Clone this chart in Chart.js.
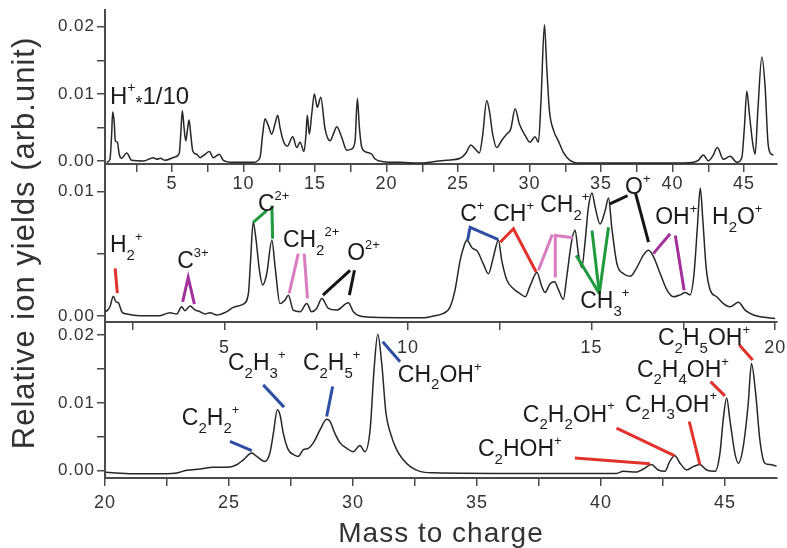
<!DOCTYPE html>
<html><head><meta charset="utf-8">
<script src="https://cdn.jsdelivr.net/npm/chart.js@4.4.0/dist/chart.umd.min.js"></script>
<style>
html,body{margin:0;padding:0;background:#fff;}
#wrap{position:relative;width:787px;height:548px;overflow:hidden;background:#fff;}
#wrap canvas{position:absolute;left:0;top:0;}
</style></head><body>
<div id="wrap">
<canvas id="cTop" width="787" height="548"></canvas>
<canvas id="cMid" width="787" height="548"></canvas>
<canvas id="cBot" width="787" height="548"></canvas>
</div>
<script>
// ---------- DATA ----------
// Top panel: full spectrum (H+ scaled by 1/10)
const topMass = [0.43,0.66,0.78,0.85,0.95,1.04,1.18,1.31,1.48,1.83,2.18,3.0,3.69,3.93,4.2,4.5,5.21,5.51,5.61,5.72,5.84,5.96,6.07,6.19,6.31,6.45,6.73,6.96,7.31,7.61,7.89,8.31,8.59,9.29,10.69,11.15,11.34,11.5,11.73,11.97,12.2,12.39,12.55,12.78,13.06,13.44,13.72,13.95,14.23,14.37,14.46,14.6,14.77,14.95,15.16,15.4,15.7,16.05,16.28,16.52,16.87,17.22,17.57,17.8,17.96,18.1,18.27,18.62,18.97,19.2,19.78,20.94,22.57,23.27,24.21,25.14,25.56,25.89,26.19,26.49,26.73,27.0,27.19,27.42,27.7,28.06,28.4,28.69,28.99,29.29,29.69,30.03,30.38,30.62,30.8,31.04,31.2,31.39,31.67,32.01,32.36,32.83,33.53,40.76,41.45,41.8,42.15,42.5,42.81,43.13,43.55,44.02,44.49,44.84,45.02,45.19,45.37,45.61,45.77,45.96,46.24,46.47,46.66,46.82,47.05];
const topYield = [-0.0002,0.00025,0.004,0.0073,0.006,0.003,0.0028,0.001,0.0004,0.0012,0.0001,0,0.0005,0.00025,0.0004,0.0001,0.0006,0.0012,0.004,0.0075,0.005,0.003,0.0045,0.0061,0.004,0.0015,0.001,0.0005,0.001,0.0014,0.0005,0.001,0.0001,-0.0002,-0.0002,0.0005,0.004,0.0063,0.0053,0.004,0.0055,0.0068,0.005,0.003,0.0022,0.0036,0.002,0.0028,0.0014,0.004,0.0068,0.004,0.007,0.01,0.008,0.0095,0.0048,0.003,0.004,0.0051,0.0035,0.0016,0.0018,0.003,0.0093,0.005,0.002,0.0013,0.001,0.0003,-0.0001,-0.0002,-0.0003,-0.0001,0.0001,0.0004,0.0012,0.0024,0.0018,0.0012,0.004,0.009,0.0075,0.004,0.002,0.0031,0.004,0.0048,0.0078,0.0055,0.0038,0.0028,0.0036,0.0028,0.009,0.0203,0.014,0.0075,0.0046,0.003,0.0013,0.0001,-0.0003,-0.0003,-0.0002,0.0001,0.0009,0,0.00075,0.002,0.00025,0.0007,-0.0002,0.0005,0.005,0.0104,0.007,0.0025,0.001,0.0075,0.0155,0.011,0.003,0.0012,0.0009];

// Middle panel: mass 2-20
const midMass = [1.77,1.88,1.97,2.04,2.11,2.2,2.34,2.7,3.24,3.51,3.7,3.83,3.92,4.06,4.2,4.33,4.47,4.6,4.79,5.06,5.24,5.51,5.65,5.71,5.78,5.86,5.95,6.04,6.15,6.29,6.38,6.51,6.65,6.74,6.87,7.06,7.24,7.37,7.51,7.65,7.83,8.06,8.37,8.51,8.69,9.05,9.78,10.42,10.69,10.96,11.14,11.28,11.42,11.53,11.6,11.74,11.89,12.05,12.19,12.32,12.46,12.55,12.69,12.87,13.05,13.19,13.32,13.51,13.64,13.73,13.87,13.99,14.1,14.23,14.32,14.46,14.55,14.64,14.73,14.82,14.91,15.01,15.1,15.23,15.37,15.46,15.55,15.69,15.87,16.05,16.23,16.41,16.55,16.68,16.87,17.05,17.23,17.41,17.55,17.68,17.79,17.88,17.96,18.03,18.12,18.23,18.41,18.59,18.77,19.0,19.18,19.41,19.59,20.0];
const midYield = [0.00035,0.00075,0.0016,0.00115,0.00107,0.00035,0.00016,0.00003,0.00003,0.00027,0.00016,0.00075,0.00043,0.0008,0.00048,0.00035,0.00016,0.00027,0.00008,0.00035,0.0007,0.00096,0.0018,0.0045,0.00754,0.0061,0.0037,0.0025,0.0034,0.0061,0.0039,0.001,0.0013,0.00168,0.00048,0.00035,0.001,0.00035,0.00061,0.00141,0.00061,0.00048,0.00107,0.00035,0,-0.0001,-0.00013,-0.00013,0,0.00021,0.0007,0.0021,0.0045,0.0057,0.0061,0.0055,0.0052,0.0042,0.0034,0.0047,0.0061,0.0045,0.0029,0.0022,0.0018,0.00155,0.0024,0.0035,0.0024,0.0019,0.0026,0.00275,0.0021,0.00133,0.0031,0.0061,0.0069,0.005,0.0039,0.0059,0.0087,0.0099,0.0087,0.0074,0.0085,0.0095,0.0071,0.0042,0.0034,0.0032,0.0039,0.0049,0.0053,0.0048,0.0034,0.0021,0.00155,0.0017,0.0019,0.0017,0.0034,0.0071,0.0103,0.0077,0.0039,0.0021,0.00155,0.001,0.00075,0.0011,0.00048,0.00008,-0.00005,-0.00019];

// Bottom panel: mass 20-47
const botMass = [20.04,21.14,22.49,22.89,23.29,23.83,24.37,24.91,25.31,25.58,25.92,26.12,26.45,26.65,26.79,26.95,27.06,27.19,27.39,27.59,27.79,28.0,28.2,28.4,28.67,28.94,29.07,29.27,29.48,29.75,30.01,30.28,30.48,30.69,30.85,31.0,31.16,31.33,31.49,31.76,32.03,32.3,32.7,33.24,36.87,40.63,40.9,41.44,41.71,42.04,42.31,42.58,42.78,42.98,43.19,43.46,43.72,43.99,44.26,44.6,44.8,44.93,45.07,45.2,45.4,45.54,45.74,45.94,46.07,46.24,46.41,46.61,46.81,47.08];
const botYield = [-0.00025,-0.00044,-0.00044,-0.00034,0.00005,0.00025,0.0005,0.0005,0.00088,0.0016,0.0026,0.0021,0.00137,0.0026,0.0055,0.009,0.0082,0.0055,0.0031,0.0024,0.0021,0.0031,0.0033,0.0041,0.006,0.0076,0.0073,0.0055,0.0041,0.0033,0.0028,0.0037,0.0028,0.006,0.0149,0.0201,0.0158,0.0085,0.0058,0.0031,0.0016,0.00063,-0.0001,-0.0003,-0.0004,-0.0004,-0.0001,-0.0002,0.00025,0.0009,0.0001,-0.0001,0.0014,0.0022,0.0011,0.0001,0.0006,0.0009,0.0001,-0.0001,0.0026,0.0075,0.0107,0.0075,0.0026,0.0011,0.0036,0.0099,0.0158,0.0114,0.0045,0.0011,0.0009,0.0007];

// Tick values and labels
const topXTicks = [2.5,5,7.5,10,12.5,15,17.5,20,22.5,25,27.5,30,32.5,35,37.5,40,42.5,45];
const topXLabels = ['','5','','10','','15','','20','','25','','30','','35','','40','','45'];
const midXTicks = [2.5,5,7.5,10,12.5,15,17.5,20];
const midXLabels = ['','5','','10','','15','','20'];
const botXTicks = [20,22.5,25,27.5,30,32.5,35,37.5,40,42.5,45];
const botXLabels = ['20','','25','','30','','35','','40','','45'];
const yTicks2 = [0,0.005,0.01,0.015,0.02];
const yLabels2 = ['0.00','','0.01','','0.02'];
const yTicks1 = [0,0.005,0.01];
const yLabels1 = ['0.00','','0.01'];

// Ion labels (text, mass, yield of baseline-left)
const topLabelText = ['H^+~*1/10'];
const topLabelMass = [0.66];
const topLabelYield = [0.00853];

const midLabelText = ['H_2^+','C^{3+}','C^{2+}','CH_2^{2+}','O^{2+}','C^+','CH^+','CH_2^+','CH_3^+','O^+','OH^+','H_2O^+'];
const midLabelMass = [1.88,3.71,5.91,6.59,8.34,11.42,12.32,13.60,14.69,15.91,16.73,18.28];
const midLabelYield = [0.00514,0.00384,0.00848,0.00554,0.00448,0.00768,0.00768,0.00834,0.00062,0.00984,0.00742,0.00742];

const botLabelText = ['C_2H_2^+','C_2H_3^+','C_2H_5^+','CH_2OH^+','C_2HOH^+','C_2H_2OH^+','C_2H_3OH^+','C_2H_4OH^+','C_2H_5OH^+'];
const botLabelMass = [23.10,24.96,27.98,31.81,35.04,36.85,40.97,41.45,42.30];
const botLabelYield = [0.00676,0.01485,0.01485,0.01313,0.0021,0.00725,0.00872,0.01387,0.01853];

// Marker strokes linking labels to peaks
const RED='#e2322c', BLUE='#2d4ea3', GREEN='#1f9b3e', PINK='#d97cc0', PURPLE='#a2329a', BLACK='#151515';
const midMarkColor = [RED,PURPLE,GREEN,GREEN,PINK,PINK,BLACK,BLACK,BLUE,RED,PINK,PINK,GREEN,GREEN,GREEN,BLACK,BLACK,PURPLE,PURPLE];
const midMarkMass = [[2.02,2.08],[3.86,4.01,4.18],[5.78,6.15],[6.29,6.31],[6.76,7.01],[7.17,7.26],[7.68,8.42],[8.54,8.40],[11.62,11.69,12.46],[12.51,12.87,13.49],[13.55,13.93],[14.01,14.01,14.49],[14.58,15.21],[15.01,15.21],[15.46,15.21],[15.50,15.98],[16.19,16.55],[16.68,17.14],[17.28,17.52]];
const midMarkYield = [[0.00384,0.00184],[0.00114,0.0031,0.00096],[0.00754,0.00848],[0.00888,0.00622],[0.00182,0.00502],[0.00502,0.00142],[0.00168,0.00368],[0.00368,0.00168],[0.00608,0.00714,0.00614],[0.00594,0.00702,0.00354],[0.00368,0.00656],[0.0031,0.00648,0.0063],[0.00488,0.00182],[0.00688,0.00182],[0.00714,0.00182],[0.00902,0.00968],[0.00994,0.00594],[0.00502,0.00662],[0.00648,0.00208]];

const botMarkColor = [BLUE,BLUE,BLUE,BLUE,RED,RED,RED,RED,RED];
const botMarkMass = [[25.04,25.92],[26.38,27.22],[29.18,28.94],[31.20,31.90],[38.95,41.98],[40.63,42.96],[43.56,43.99],[44.42,45.0],[45.58,46.12]];
const botMarkYield = [[0.00431,0.00294],[0.01265,0.00937],[0.0124,0.00799],[0.01901,0.01607],[0.00187,0.00103],[0.00628,0.00221],[0.00725,0.00088],[0.01313,0.01103],[0.01853,0.01632]];

// ---------- RENDERING ----------
const FONT = "'Liberation Sans', Arial, sans-serif";
const AXIS = '#4a4a4a';
Chart.defaults.font.family = FONT;
Chart.defaults.color = '#333';

function pts(xs, ys){ return xs.map((x,i)=>({x:x, y:ys[i]})); }

function parseFormula(s){
  const out=[]; let i=0;
  while(i<s.length){
    const c=s[i];
    if(c==='_'||c==='^'||c==='~'){
      let txt;
      if(s[i+1]==='{'){ const j=s.indexOf('}',i); txt=s.slice(i+2,j); i=j+1; }
      else { txt=s[i+1]; i+=2; }
      out.push({t:txt, k: c==='_'?'sub':(c==='^'?'sup':'mid')});
    } else {
      let j=i; while(j<s.length && '_^~'.indexOf(s[j])<0) j++;
      out.push({t:s.slice(i,j), k:'n'}); i=j;
    }
  }
  return out;
}
function drawFormula(ctx, s, x, y, size){
  ctx.save();
  if ('letterSpacing' in ctx) ctx.letterSpacing = '0px';
  ctx.fillStyle='#1c1c1c'; ctx.textBaseline='alphabetic'; ctx.textAlign='left';
  let cx=x;
  parseFormula(s).forEach(p=>{
    let fs=size, dy=0;
    if(p.k==='sub'){ fs=Math.round(size*0.65); dy=size*0.34; }
    else if(p.k==='sup'){ fs=Math.round(size*0.58); dy=-size*0.48; }
    else if(p.k==='mid'){ fs=Math.round(size*0.75); dy=size*0.2; }
    ctx.font = fs+'px '+FONT;
    ctx.fillText(p.t, cx, y+dy);
    cx += ctx.measureText(p.t).width;
  });
  ctx.restore();
}
const ionLabels = {
  id:'ionLabels',
  beforeDraw(chart){ if ('letterSpacing' in chart.ctx) chart.ctx.letterSpacing = '1px'; },
  afterDatasetsDraw(chart, args, opts){
    const xs=chart.scales.x, ys=chart.scales.y;
    (opts.text||[]).forEach((t,i)=>{
      drawFormula(chart.ctx, t, xs.getPixelForValue(opts.mass[i]), ys.getPixelForValue(opts.yield[i]), opts.size);
    });
  },
  afterDraw(chart){ if ('letterSpacing' in chart.ctx) chart.ctx.letterSpacing = '0px'; }
};

function makeChart(id, o){
  const datasets = [{
    data: pts(o.mass, o.yield), borderColor:'#262626', borderWidth:1.5,
    pointRadius:0, cubicInterpolationMode:'monotone', order:2
  }];
  (o.markColor||[]).forEach((c,i)=>{
    datasets.push({data: pts(o.markMass[i], o.markYield[i]), borderColor:c, borderWidth:3,
      pointRadius:0, tension:0, order:1, borderCapStyle:'butt'});
  });
  return new Chart(document.getElementById(id), {
    type:'line',
    data:{datasets:datasets},
    options:{
      responsive:false, animation:false, devicePixelRatio:1,
      layout:{padding:o.pad},
      plugins:{legend:{display:false}, tooltip:{enabled:false},
        ionLabels:{text:o.labelText, mass:o.labelMass, yield:o.labelYield, size:o.labelSize}},
      scales:{
        x:{type:'linear', min:o.xmin, max:o.xmax,
          afterBuildTicks: s=>{ s.ticks = o.xt.map(v=>({value:v})); },
          afterFit: s=>{ s.height=o.xh; s.paddingLeft=0; s.paddingRight=0; },
          ticks:{callback:(v,i)=>o.xl[i], autoSkip:false, maxRotation:0, minRotation:0, padding:o.xpad, font:{size:18}, color:'#333'},
          grid:{drawOnChartArea:false, tickLength:8, color:AXIS, lineWidth:1.5},
          border:{color:AXIS, width:2},
          title: o.xtitle || {display:false}
        },
        y:{type:'linear', min:o.ymin, max:o.ymax,
          afterBuildTicks: s=>{ s.ticks = o.yt.map(v=>({value:v})); },
          afterFit: s=>{ s.width=105; s.paddingTop=0; s.paddingBottom=0; },
          ticks:{callback:(v,i)=>o.yl[i], autoSkip:false, padding:2, font:{size:17}, color:'#333'},
          grid:{drawOnChartArea:false, tickLength:8, color:AXIS, lineWidth:1.5},
          border:{color:AXIS, width:2},
          title: o.ytitle || {display:false}
        }
      }
    },
    plugins:[ionLabels]
  });
}

makeChart('cTop', {
  mass:topMass, yield:topYield,
  pad:{left:0, top:10, right:10, bottom:344}, xh:40, xpad:1,
  xmin:0.315, xmax:47.3, ymin:-0.00045, ymax:0.0225,
  xt:topXTicks, xl:topXLabels, yt:yTicks2, yl:yLabels2,
  labelText:topLabelText, labelMass:topLabelMass, labelYield:topLabelYield, labelSize:24
});
makeChart('cMid', {
  mass:midMass, yield:midYield,
  pad:{left:0, top:164, right:10, bottom:186}, xh:40, xpad:7,
  xmin:1.744, xmax:20.05, ymin:-0.00048, ymax:0.01223,
  xt:midXTicks, xl:midXLabels, yt:yTicks1, yl:yLabels1,
  markColor:midMarkColor, markMass:midMarkMass, markYield:midMarkYield,
  labelText:midLabelText, labelMass:midLabelMass, labelYield:midLabelYield, labelSize:23,
  ytitle:{display:true, text:'Relative ion yields (arb.unit)', color:'#333', font:{size:31, lineHeight:1}, padding:{top:10, bottom:0}}
});
makeChart('cBot', {
  mass:botMass, yield:botYield,
  pad:{left:0, top:322, right:10, bottom:0}, xh:70, xpad:6,
  xmin:20, xmax:47.1, ymin:-0.00108, ymax:0.02192,
  xt:botXTicks, xl:botXLabels, yt:yTicks2, yl:yLabels2,
  markColor:botMarkColor, markMass:botMarkMass, markYield:botMarkYield,
  labelText:botLabelText, labelMass:botLabelMass, labelYield:botLabelYield, labelSize:23,
  xtitle:{display:true, text:'Mass to charge', color:'#333', font:{size:28, lineHeight:1}, padding:{top:0, bottom:0}}
});
</script>
</body></html>
